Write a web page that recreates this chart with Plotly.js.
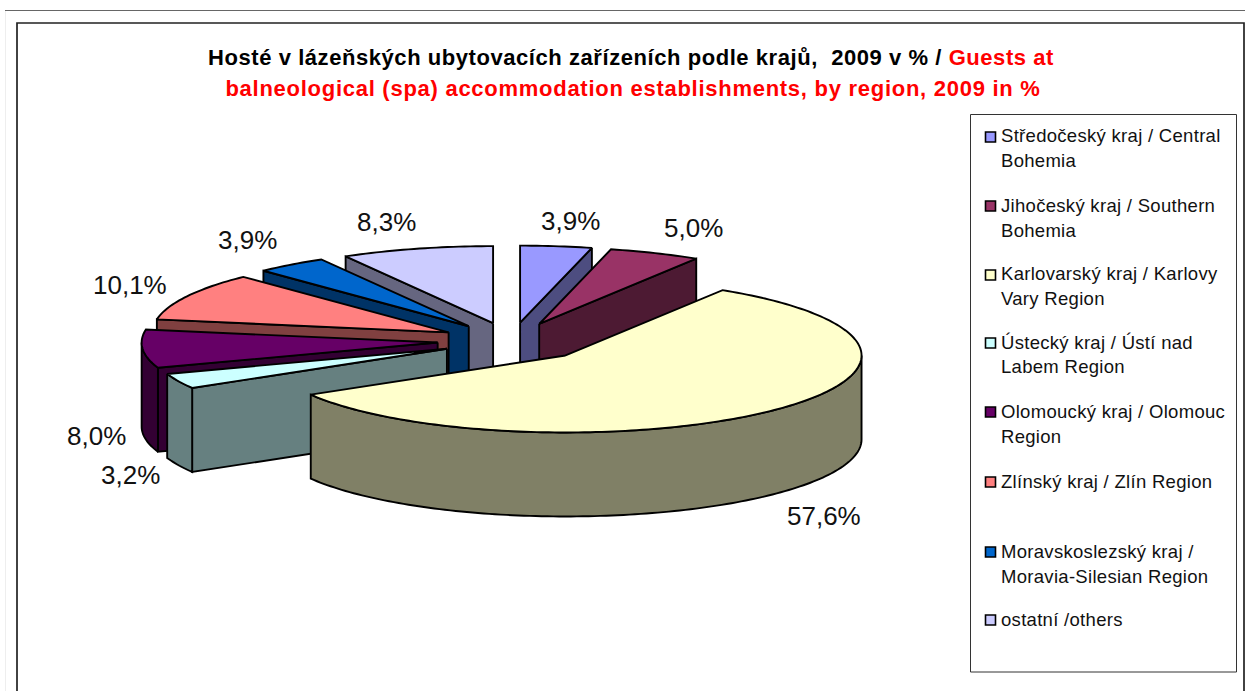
<!DOCTYPE html>
<html><head><meta charset="utf-8">
<script src="https://cdn.plot.ly/plotly-3.0.1.min.js"></script>
<style>html,body{margin:0;padding:0;background:#fff}#c{width:1245px;height:691px}
.gtitle{letter-spacing:.56px}
</style>
</head><body><div id="c"></div>
<script>
const W = 1245, H = 691;
// Data
const regions = [
  "Středočeský kraj / Central<br>Bohemia",
  "Jihočeský kraj / Southern<br>Bohemia",
  "Karlovarský kraj / Karlovy<br>Vary Region",
  "Ústecký kraj / Ústí nad<br>Labem Region",
  "Olomoucký kraj / Olomouc<br>Region",
  "Zlínský kraj / Zlín Region",
  "Moravskoslezský kraj /<br>Moravia-Silesian Region",
  "ostatní /others"
];
const shares = [3.9, 5.0, 57.6, 3.2, 8.0, 10.1, 3.9, 8.3];
const topColors = ["#9999FF","#993366","#FFFFCC","#CCFFFF","#660066","#FF8080","#0066CC","#CCCCFF"];
const sideColors = ["#4D4D80","#4D1A33","#808066","#668080","#330033","#804040","#003366","#666680"];
const pulls = [0.24,0.24,0.262,0.24,0.25,0.24,0.24,0.24];
const paintOrder = [7,6,5,4,3,0,1,2];
const labelPos = [[570,221],[693,228],[824,516],[130,475],[96,436],[130,285],[247,240],[386,222]];
const swatchY = [137,206,275,343,412,482,552,620];
const legendTextY = [135,205,273,342,411,481,551,619];

// Pie projection: unit pie on axes scaled to an ellipse
const RX = 296, RY = 77, CX = 511.4, CY = 341;
const DEPTH = 84 / RY;
const total = shares.reduce((a,b)=>a+b,0);
let acc = 0;
const slices = shares.map((v,i)=>{
  const a0 = acc/total*2*Math.PI; acc += v;
  const a1 = acc/total*2*Math.PI;
  const mid = (a0+a1)/2;
  return {i,a0,a1,ox:pulls[i]*Math.sin(mid),oy:pulls[i]*Math.cos(mid)};
});
function arc(s,from,to,dz){
  const n = Math.max(2,Math.ceil((to-from)/0.02)), xs=[], ys=[];
  for(let k=0;k<=n;k++){const t=from+(to-from)*k/n;
    xs.push(s.ox+Math.sin(t)); ys.push(s.oy+Math.cos(t)-dz);}
  return [xs,ys];
}
const traces=[];
function poly(xs,ys,fill,name){
  traces.push({type:'scatter',mode:'lines',x:xs.concat(xs[0]),y:ys.concat(ys[0]),fill:'toself',
    fillcolor:fill,line:{color:'#000',width:1.9,simplify:false},hoverinfo:'name',name:name,showlegend:false});
}
paintOrder.forEach(idx=>{
  const s=slices[idx], side=sideColors[idx], nm=regions[idx].replace('<br>',' ');
  // only radial walls that face the viewer
  const walls=[];
  if(Math.sin(s.a0)<-1e-6) walls.push(s.a0);
  if(Math.sin(s.a1)>1e-6) walls.push(s.a1);
  walls.forEach(a=>{
    const px=s.ox+Math.sin(a), py=s.oy+Math.cos(a);
    poly([s.ox,px,px,s.ox],[s.oy,py,py-DEPTH,s.oy-DEPTH],side,nm);
  });
  const f=Math.max(s.a0,Math.PI/2), t=Math.min(s.a1,3*Math.PI/2);
  if(t>f){
    const up=arc(s,f,t,0), dn=arc(s,f,t,DEPTH);
    poly(up[0].concat(dn[0].slice().reverse()),up[1].concat(dn[1].slice().reverse()),side,nm);
  }
  const top=arc(s,s.a0,s.a1,0);
  poly([s.ox].concat(top[0]),[s.oy].concat(top[1]),topColors[idx],nm);
});
const fx=p=>p/W, fy=p=>1-p/H;
traces.push({type:'scatter',mode:'markers',hoverinfo:'skip',showlegend:false,
  x:swatchY.map(()=>(990.5-CX)/RX), y:swatchY.map(y=>(CY-y)/RY),
  marker:{symbol:'square',size:10,color:topColors,line:{color:'#000',width:1.6}}});

const font={family:'"Liberation Sans",Arial,sans-serif',color:'#000'};
const annotations=[];
shares.forEach((v,i)=>annotations.push({xref:'paper',yref:'paper',x:fx(labelPos[i][0]),y:fy(labelPos[i][1]),
  text:v.toFixed(1).replace('.',',')+'%',showarrow:false,xanchor:'center',yanchor:'middle',
  font:{...font,size:26,color:'#111'}}));
const legendIdx=[];
regions.forEach((r,i)=>r.split('<br>').forEach((line,k)=>{
  legendIdx.push(annotations.length);
  annotations.push({xref:'paper',yref:'paper',x:fx(998.5),y:fy(legendTextY[i]+25*k),
    text:line,showarrow:false,xanchor:'left',yanchor:'middle',align:'left',font:{...font,size:18.5,color:'#111'}});
}));
const line2Idx=annotations.length;
annotations.push({xref:'paper',yref:'paper',x:fx(633),y:fy(88),xanchor:'center',yanchor:'middle',showarrow:false,
  text:'<b>balneological (spa) accommodation establishments, by region, 2009 in %</b>',
  font:{...font,size:22,color:'#FF0000'}});

// letter spacing of the office-chart text
const css=legendIdx.map(i=>`.annotation[data-index="${i}"] text{letter-spacing:.3px}`).join('')+
  `.annotation[data-index="${line2Idx}"] text{letter-spacing:.73px}`;
const st=document.createElement('style');st.textContent=css;document.head.appendChild(st);

const layout={
  width:W,height:H,margin:{l:0,r:0,t:0,b:0},paper_bgcolor:'#fff',plot_bgcolor:'rgba(0,0,0,0)',showlegend:false,
  title:{text:'<b>Hosté v lázeňských ubytovacích zařízeních podle krajů,  2009 v % / <span style="color:#FF0000">Guests at</span></b>',
    font:{...font,size:22},x:631/W,xanchor:'center',y:fy(57),yanchor:'middle',automargin:false},
  xaxis:{visible:false,range:[(0-CX)/RX,(W-CX)/RX],fixedrange:true},
  yaxis:{visible:false,range:[(CY-H)/RY,CY/RY],fixedrange:true},
  annotations,
  shapes:[
    {type:'line',xref:'paper',yref:'paper',x0:fx(5),x1:1,y0:fy(10.5),y1:fy(10.5),line:{color:'#666',width:1.2}},
    {type:'line',xref:'paper',yref:'paper',x0:fx(5.5),x1:fx(5.5),y0:fy(11),y1:0,line:{color:'#eee',width:1}},
    {type:'rect',xref:'paper',yref:'paper',x0:fx(17),x1:fx(1244),y0:fy(23),y1:fy(700),line:{color:'#222',width:1.7}},
    {type:'rect',xref:'paper',yref:'paper',x0:fx(970.5),x1:fx(1236.5),y0:fy(114.5),y1:fy(672),line:{color:'#333',width:1}}
  ]
};
Plotly.newPlot('c',traces,layout,{displayModeBar:false,staticPlot:true});
</script></body></html>
